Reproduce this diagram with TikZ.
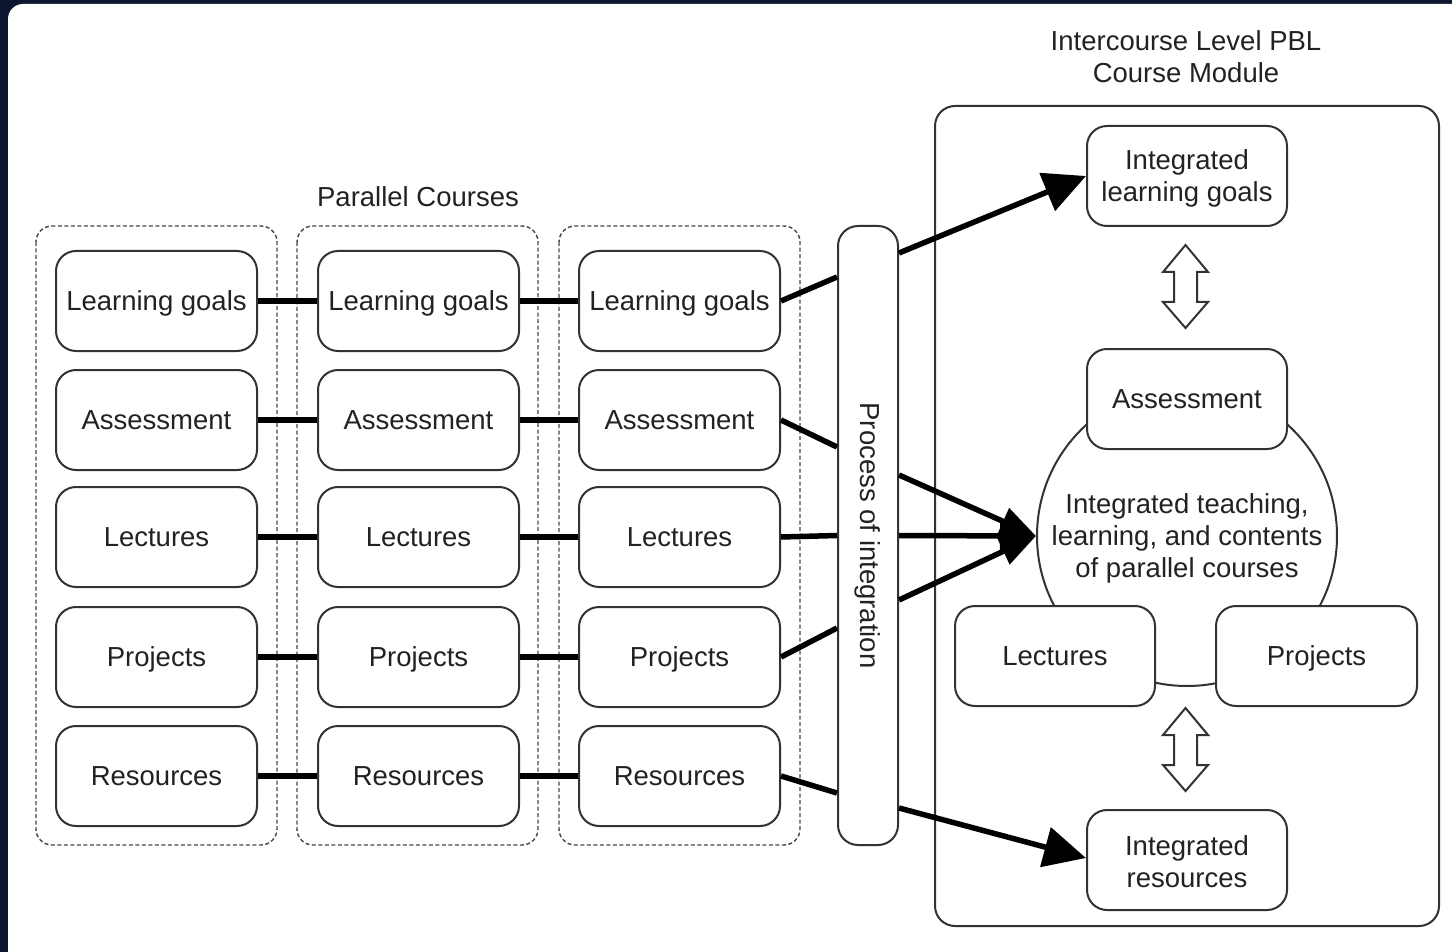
\documentclass[tikz,border=0pt]{standalone}
\usepackage{fontspec}
\setmainfont{Liberation Sans}
\usetikzlibrary{arrows.meta,calc}
\definecolor{navy}{HTML}{0D1631}
\definecolor{ink}{HTML}{222222}
\definecolor{edge}{HTML}{333333}
\tikzset{
  bx/.style={draw=edge, line width=2pt, rounded corners=20pt, fill=white,
    minimum width=201pt, minimum height=100pt, inner sep=0pt, text depth=0pt,
    text=ink, font=\fontsize{27.5}{32}\selectfont, align=center},
  grp/.style={draw=edge!90, line width=1.4pt, dash pattern=on 4pt off 2.5pt, rounded corners=16pt},
  link/.style={line width=5.5pt, black},
  arr/.style={line width=5.5pt, black, -{Triangle[length=42pt,width=40pt]}},
  arrc/.style={line width=5.5pt, black, -{Triangle[length=36pt,width=28pt]}},
  ttl/.style={text=ink, font=\fontsize{27.5}{32}\selectfont, align=center, inner sep=0pt},
  darr/.style={draw=edge, line width=2pt, fill=white, line join=miter},
}
\begin{document}
\begin{tikzpicture}[x=1pt,y=-1pt]
\useasboundingbox (0,0) rectangle (1452,952);
\fill[navy] (0,0) rectangle (1452,952);
\begin{scope}
\clip (0,0) rectangle (1452,952);
\fill[white, rounded corners=15pt] (8,4) rectangle (1480,980);
\end{scope}

% titles
\node[ttl] (ptitle) at (418,197) {Parallel Courses};
\node[ttl] (mtitle) at (1186,57) {Intercourse Level PBL\\Course Module};

% course groups
\draw[grp] (36,226) rectangle (277,845);
\draw[grp] (297,226) rectangle (538,845);
\draw[grp] (559,226) rectangle (800,845);

% course boxes
\foreach \c/\x in {1/156.5,2/418.5,3/679.5}{
  \node[bx] (c\c lg) at (\x,301) {Learning goals};
  \node[bx] (c\c as) at (\x,420) {Assessment};
  \node[bx] (c\c le) at (\x,537) {Lectures};
  \node[bx] (c\c pr) at (\x,657) {Projects};
  \node[bx] (c\c re) at (\x,776) {Resources};
}
\foreach \r in {lg,as,le,pr,re}{
  \draw[link] (c1\r.east) -- (c2\r.west);
  \draw[link] (c2\r.east) -- (c3\r.west);
}

% process of integration
\node[draw=edge, line width=2pt, rounded corners=20pt, fill=white,
  minimum width=60pt, minimum height=619pt, inner sep=0pt] (proc) at (868,535.5) {};
\node[ttl, rotate=-90] (proctxt) at (868,535.5) {Process of integration};

% module box
\draw[draw=edge, line width=2pt, rounded corners=20pt] (935,106) rectangle (1439,926);

% core circle
\node[draw=edge, line width=2pt, circle, minimum size=300pt, inner sep=0pt, text depth=0pt,
  text=ink, font=\fontsize{27.5}{32}\selectfont, align=center] (core) at (1187,536)
  {Integrated teaching,\\learning, and contents\\of parallel courses};

\node[bx, minimum width=200pt] (ilg) at (1187,176) {Integrated\\learning goals};
\node[bx, minimum width=200pt] (ias) at (1187,399) {Assessment};
\node[bx, minimum width=200pt] (ile) at (1055,656) {Lectures};
\node[bx, minimum width=201pt] (ipr) at (1316.5,656) {Projects};
\node[bx, minimum width=200pt] (ire) at (1187,860) {\strut Integrated\\resources\rule[-4pt]{0pt}{1pt}};

% double arrows
\draw[darr] (1185.5,245) -- (1208,272) -- (1197,272) -- (1197,302) -- (1208,302)
  -- (1185.5,328) -- (1163,302) -- (1174,302) -- (1174,272) -- (1163,272) -- cycle;
\draw[darr] (1185.5,708) -- (1208,735) -- (1197,735) -- (1197,765) -- (1208,765)
  -- (1185.5,791) -- (1163,765) -- (1174,765) -- (1174,735) -- (1163,735) -- cycle;

% lines into process box
\draw[link] (c3lg.east) -- ([yshift=258.5pt]proc.west);
\draw[link] (c3as.east) -- ([yshift=88.5pt]proc.west);
\draw[link] (c3le.east) -- (proc.west);
\draw[link] (c3pr.east) -- ([yshift=-92.5pt]proc.west);
\draw[link] (c3re.east) -- ([yshift=-257.5pt]proc.west);

% arrows out of process box
\draw[arr] ([yshift=282.5pt]proc.east) -- (ilg.west);
\draw[arr] ([yshift=-272.5pt]proc.east) -- ([yshift=2pt]ire.west);
\draw[arrc] ([yshift=60.5pt]proc.east) -- (core.west);
\draw[arrc] (proc.east) -- (core.west);
\draw[arrc] ([yshift=-64.5pt]proc.east) -- (core.west);
\end{tikzpicture}
\end{document}
